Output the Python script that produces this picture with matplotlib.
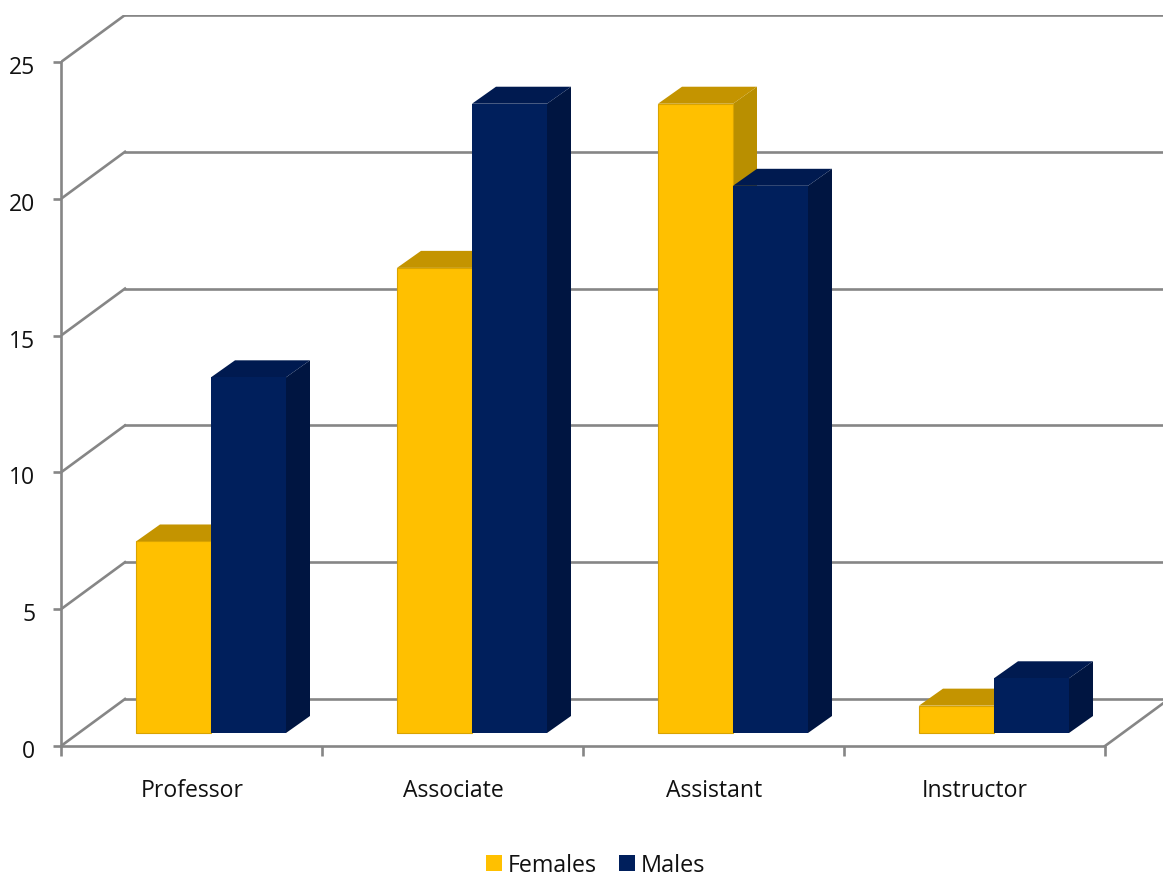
import matplotlib
matplotlib.use('Agg')
import matplotlib.pyplot as plt
from matplotlib.patches import Polygon, Rectangle
from matplotlib.ticker import NullFormatter
from matplotlib.transforms import ScaledTranslation

plt.rcParams['font.family'] = ['Open Sans', 'DejaVu Sans']

categories = ['Professor', 'Associate', 'Assistant', 'Instructor']
females = [7, 17, 23, 1]
males = [13, 23, 20, 2]
y_ticks = [0, 5, 10, 15, 20, 25]

GRID = '#868686'
TEXT = '#111111'
LW = 1.9
F_FRONT, F_TOP, F_SIDE, F_EDGE = '#ffc000', '#c49400', '#b98f00', '#d9a300'
M_FRONT, M_TOP, M_SIDE = '#001f5c', '#001a50', '#001541'

# depth of the 3d box, in data units (x in categories, y in value units)
DX = 64 / 261.0
DY = 47 / 27.36
BAR_W = 75 / 261.0
BAR_DX = 24 / 261.0
BAR_DY = 17 / 27.36
BAR_Y0 = 13 / 27.36  # front of the bars sits a little behind the floor edge

fig = plt.figure(figsize=(11.63, 8.76), dpi=100)
ax = fig.add_axes([61 / 1163, 1 - 746 / 876, (1163 - 61) / 1163, (746 - 15) / 876])
ax.set_xlim(0, 1102 / 261.0)
ax.set_ylim(0, 731 / 27.36)
ax.patch.set_alpha(0)

for s in ['top', 'right']:
    ax.spines[s].set_visible(False)
for s in ['left', 'bottom']:
    ax.spines[s].set_color(GRID)
    ax.spines[s].set_linewidth(LW)
ax.spines['left'].set_bounds(0, 25)
ax.spines['bottom'].set_bounds(0, 4)

# back wall lines and the slanted floor lines
for v in y_ticks:
    ax.plot([0, DX], [v, v + DY], color=GRID, lw=LW, zorder=1)
    ax.plot([DX, 5], [v + DY, v + DY], color=GRID, lw=LW, zorder=1)
ax.plot([4, 4 + DX], [0, DY], color=GRID, lw=LW, zorder=1)


def bar3d(x, v, front, top, side, edge=None, z=3):
    y0 = BAR_Y0
    h = v + y0
    ax.add_patch(Polygon([(x + BAR_W, y0), (x + BAR_W + BAR_DX, y0 + BAR_DY),
                          (x + BAR_W + BAR_DX, h + BAR_DY), (x + BAR_W, h)],
                         fc=side, ec='none', zorder=z))
    ax.add_patch(Polygon([(x, h), (x + BAR_DX, h + BAR_DY),
                          (x + BAR_W + BAR_DX, h + BAR_DY), (x + BAR_W, h)],
                         fc=top, ec='none', zorder=z))
    ax.add_patch(Rectangle((x, y0), BAR_W, v, fc=front, ec=edge or 'none',
                           lw=0.8, zorder=z))


for i in range(len(categories)):
    x = i + 75 / 261.0
    # females first, the males box always sits over their right side
    bar3d(x, females[i], F_FRONT, F_TOP, F_SIDE, edge=F_EDGE, z=3)
    bar3d(x + BAR_W, males[i], M_FRONT, M_TOP, M_SIDE, z=4)

ax.set_yticks(y_ticks)
ax.set_xticks(range(5))
ax.xaxis.set_major_formatter(NullFormatter())
ax.tick_params(axis='y', color=GRID, width=LW, length=6, pad=12.5,
               labelsize=16.5, labelcolor=TEXT)
ax.tick_params(axis='x', color=GRID, width=LW, length=7, direction='out')

# labels sit a bit lower than the tick position
shift = ScaledTranslation(0, -3 / 100, fig.dpi_scale_trans)
for lab in ax.get_yticklabels():
    lab.set_transform(lab.get_transform() + shift)

for i, name in enumerate(categories):
    ax.text(i + (131 / 261.0), -45 / 27.36, name, ha='center', va='center',
            fontsize=16.6, color=TEXT, clip_on=False)

# legend, drawn by hand to keep the small square swatches
fig.add_artist(Rectangle((486 / 1163, 1 - 871 / 876), 16 / 1163, 16 / 876,
                         transform=fig.transFigure, fc=F_FRONT, ec='none'))
fig.add_artist(Rectangle((619 / 1163, 1 - 871 / 876), 16 / 1163, 16 / 876,
                         transform=fig.transFigure, fc=M_FRONT, ec='none'))
fig.text(508 / 1163, 1 - 866 / 876, 'Females', fontsize=16.7, va='center', color=TEXT)
fig.text(641 / 1163, 1 - 866 / 876, 'Males', fontsize=16.9, va='center', color=TEXT)

fig.savefig('out.png', dpi=100)
